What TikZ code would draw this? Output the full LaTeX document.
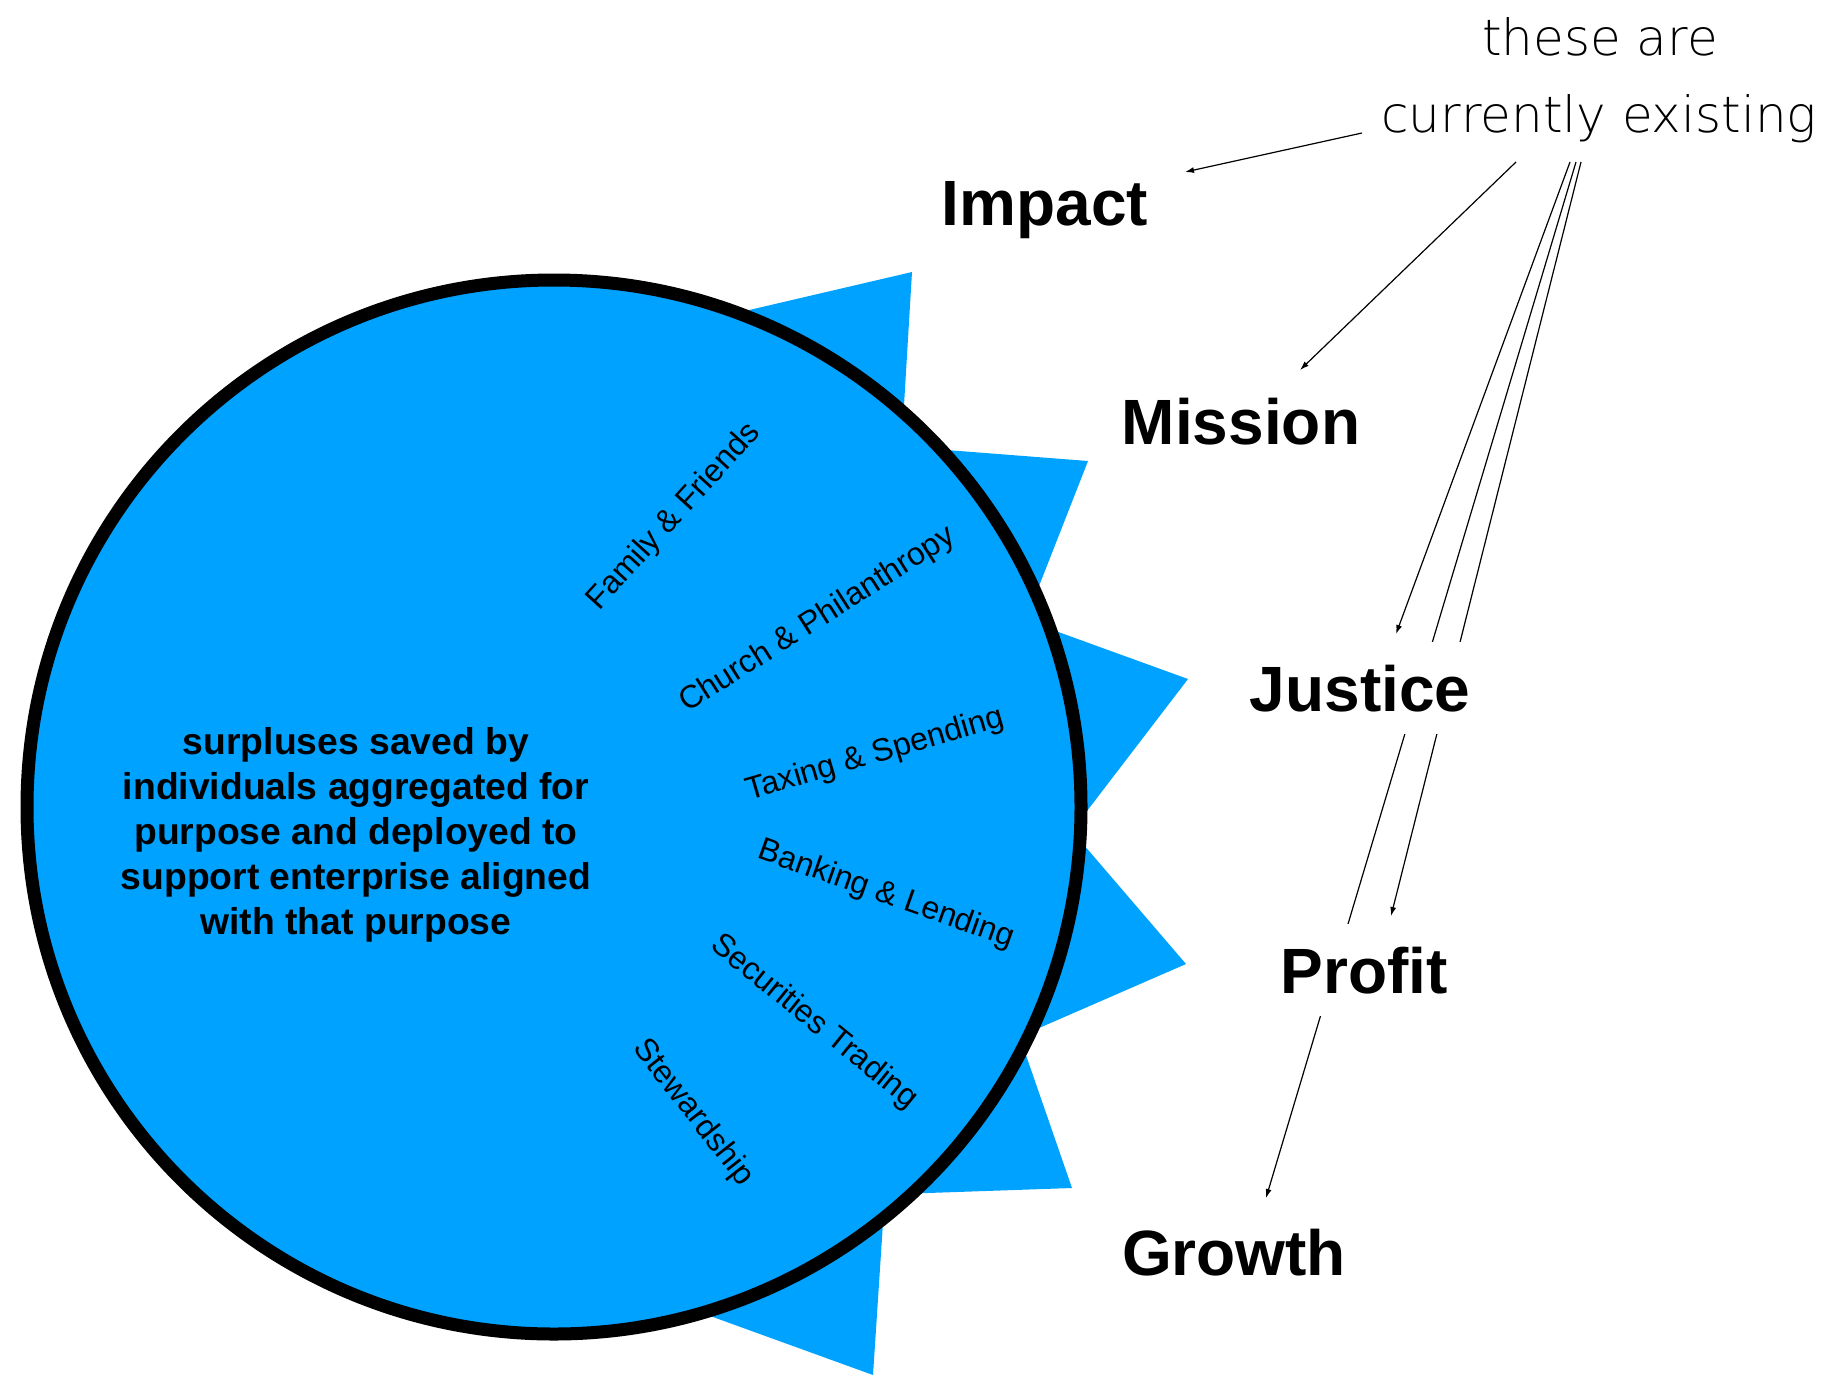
\documentclass[tikz,border=0pt]{standalone}
\usepackage{fontspec}
\setmainfont{Liberation Sans}
\newfontfamily\handfont{DejaVu Sans ExtraLight}
\usetikzlibrary{arrows.meta,backgrounds}
\definecolor{skyblue}{RGB}{0,162,255}
\begin{document}
\begin{tikzpicture}[x=1pt,y=-1pt,
  bigword/.style={font=\fontsize{64}{70}\selectfont\bfseries, fill=white, inner xsep=6pt, inner ysep=22pt, text height=47pt, text depth=1pt, anchor=base},
  lbl/.style={font=\fontsize{32}{38}\selectfont, anchor=center, inner sep=0pt},
  hand/.style={font=\handfont\fontsize{50}{60}\selectfont, anchor=base, inner sep=0pt},
  arr/.style={line width=1.2pt, -{Latex[length=9pt,width=6pt]}}]
\useasboundingbox (0,0) rectangle (1842,1374);
\clip (0,0) rectangle (1842,1374);
% spikes
\fill[skyblue] (912,272) -- (685,325) -- (901,455) -- cycle;
\fill[skyblue] (1088,461) -- (895,446) -- (1021,632) -- cycle;
\fill[skyblue] (1188,679) -- (1006,613) -- (1051,858) -- cycle;
\fill[skyblue] (1186,964) -- (1047,802) -- (984,1052) -- cycle;
\fill[skyblue] (1072,1188) -- (1010,1009) -- (870,1195) -- cycle;
\fill[skyblue] (873,1375) -- (655,1296) -- (886,1177) -- cycle;
% circle
\draw[line width=13pt, fill=skyblue] (554,807) circle[radius=527];
% central text
\node[font=\fontsize{37.3}{45}\selectfont\bfseries, align=center, inner sep=0pt] (core) at (356,835)
  {surpluses saved by\\individuals aggregated for\\purpose and deployed to\\support enterprise aligned\\with that purpose};
% rotated labels
\node[lbl, rotate=47.7] (ff) at (674,517) {Family \& Friends};
\node[lbl, rotate=32.5] (cp) at (818,620) {Church \& Philanthropy};
\node[lbl, rotate=16.3] (ts) at (875,755) {Taxing \& Spending};
\node[lbl, rotate=-19.5] (bl) at (886,895) {Banking \& Lending};
\node[lbl, rotate=-39] (st) at (814,1022) {Securities Trading};
\node[lbl, rotate=-52] (sw) at (693,1113) {Stewardship};
% big words
\node[bigword] (impact) at (1045,225) {Impact};
\node[bigword] (mission) at (1241,444) {Mission};
\node[bigword] (justice) at (1360,711) {Justice};
\node[bigword] (profit) at (1364,993) {Profit};
\node[bigword] (growth) at (1234,1275) {Growth};
% annotation
\node[hand] (these) at (1600,55) {these are};
\node[hand] (curr) at (1599,132) {currently existing};
% connector ends
\coordinate (s1) at (1362,133);
\coordinate (e1) at (1185,172);
\coordinate (s2) at (1516,162);
\coordinate (e2) at (1300,370);
\coordinate (s3) at (1570,162);
\coordinate (e3) at (1396,634);
\coordinate (s4) at (1576,162);
\coordinate (e4) at (1266,1198);
\coordinate (s5) at (1581,162);
\coordinate (e5) at (1391,916);
\begin{scope}[on background layer]
\draw[arr] (s1) -- (e1);
\draw[arr] (s2) -- (e2);
\draw[arr] (s3) -- (e3);
\draw[arr] (s4) -- (e4);
\draw[arr] (s5) -- (e5);
\end{scope}
\end{tikzpicture}
\end{document}
